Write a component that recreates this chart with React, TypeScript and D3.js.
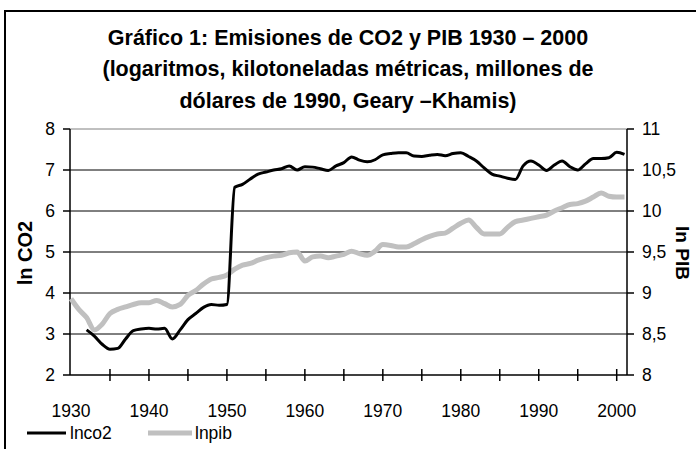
import React from 'react';
import * as d3 from 'd3';

// years 1930..2001 (one category per year)
const years = d3.range(1930, 2002);

// ln CO2 (left axis); no data for 1930-1931
const lnco2 = [
  null, null,
  3.10, 2.95, 2.75, 2.63, 2.65, 2.88, 3.08, 3.12,
  3.14, 3.12, 3.14, 2.88, 3.10, 3.35, 3.50, 3.65, 3.72, 3.70,
  3.72, 6.58, 6.65, 6.78, 6.90, 6.95, 7.00, 7.03, 7.10, 7.00,
  7.08, 7.07, 7.03, 6.99, 7.10, 7.18, 7.32, 7.24, 7.20, 7.25,
  7.37, 7.40, 7.42, 7.42, 7.34, 7.33, 7.36, 7.38, 7.35, 7.40,
  7.42, 7.33, 7.22, 7.05, 6.90, 6.85, 6.80, 6.77, 7.10, 7.22,
  7.12, 6.99, 7.12, 7.22, 7.08, 7.00, 7.15, 7.28, 7.28, 7.30,
  7.43, 7.38,
];

// ln PIB (right axis)
const lnpib = [
  8.93, 8.80, 8.70, 8.55, 8.62, 8.75, 8.80, 8.83, 8.86, 8.88,
  8.88, 8.91, 8.87, 8.83, 8.86, 8.97, 9.03, 9.11, 9.17, 9.19,
  9.22, 9.29, 9.34, 9.36, 9.40, 9.43, 9.45, 9.46, 9.49, 9.50,
  9.39, 9.44, 9.45, 9.43, 9.45, 9.47, 9.51, 9.48, 9.46, 9.51,
  9.59, 9.58, 9.56, 9.56, 9.60, 9.65, 9.69, 9.72, 9.73, 9.79,
  9.85, 9.89, 9.80, 9.72, 9.72, 9.72, 9.80, 9.87, 9.89, 9.91,
  9.93, 9.95, 10.00, 10.04, 10.08, 10.09, 10.12, 10.17, 10.22, 10.18,
  10.17, 10.17,
];

const leftTicks = [2, 3, 4, 5, 6, 7, 8];
const rightTicks = [8, 8.5, 9, 9.5, 10, 10.5, 11];
const yearLabels = [1930, 1940, 1950, 1960, 1970, 1980, 1990, 2000];
const yearTicks = [1935, 1940, 1945, 1950, 1955, 1960, 1965, 1970, 1975, 1980, 1985, 1990, 1995, 2000];

const titleLines = [
  'Gráfico 1: Emisiones de CO2 y PIB 1930 – 2000',
  '(logaritmos, kilotoneladas métricas, millones de',
  'dólares de 1990, Geary –Khamis)',
];

const W = 696;
const H = 449;
const font = '"Liberation Sans", Arial, sans-serif';

export default function App() {
  const plot = { left: 70, right: 627, top: 129, bottom: 375 };

  const x = d3.scaleLinear().domain([1930, 2001]).range([71, 624.5]);
  const yL = d3.scaleLinear().domain([2, 8]).range([plot.bottom, plot.top]);
  const yR = d3.scaleLinear().domain([8, 11]).range([plot.bottom, plot.top]);

  const co2Line = d3.line<number | null>()
    .defined(d => d != null)
    .x((_, i) => x(years[i]))
    .y(d => yL(d as number))
    .curve(d3.curveMonotoneX);

  const pibLine = d3.line<number>()
    .x((_, i) => x(years[i]))
    .y(d => yR(d))
    .curve(d3.curveMonotoneX);

  const fmt = (v: number) => String(v).replace('.', ',');

  return (
    <svg width={W} height={H} style={{ position: 'absolute', left: 0, top: 0, background: '#fff' }}
      fontFamily={font}>
      {/* outer chart border */}
      <rect x={5} y={11} width={720} height={500} fill="none" stroke="#000" strokeWidth={2} />

      {titleLines.map((t, i) => (
        <text key={i} x={348} y={44.5 + i * 31.5} textAnchor="middle" fontSize={21.5} fontWeight="bold">{t}</text>
      ))}

      {/* gridlines */}
      {leftTicks.filter(v => v > 2 && v < 8).map(v => (
        <line key={v} x1={plot.left} x2={plot.right} y1={yL(v)} y2={yL(v)} stroke="#000" strokeWidth={1} />
      ))}
      <line x1={plot.left} x2={plot.right} y1={plot.top} y2={plot.top} stroke="#808080" strokeWidth={1} />

      {/* left axis */}
      <line x1={plot.left} x2={plot.left} y1={plot.top} y2={plot.bottom} stroke="#000" strokeWidth={1.5} />
      {leftTicks.map(v => (
        <g key={v}>
          <line x1={plot.left - 7} x2={plot.left} y1={yL(v)} y2={yL(v)} stroke="#000" strokeWidth={1.5} />
          <text x={plot.left - 15} y={yL(v)} dy="0.36em" textAnchor="end" fontSize={17.5}>{v}</text>
        </g>
      ))}

      {/* right axis */}
      <line x1={plot.right} x2={plot.right} y1={plot.top} y2={plot.bottom} stroke="#000" strokeWidth={1.5} />
      {rightTicks.map(v => (
        <g key={v}>
          <line x1={plot.right} x2={plot.right + 7} y1={yR(v)} y2={yR(v)} stroke="#000" strokeWidth={1.5} />
          <text x={plot.right + 15} y={yR(v)} dy="0.36em" fontSize={17.5}>{fmt(v)}</text>
        </g>
      ))}

      {/* bottom axis */}
      <line x1={plot.left} x2={plot.right} y1={plot.bottom} y2={plot.bottom} stroke="#000" strokeWidth={1.5} />
      {yearTicks.map(v => (
        <line key={v} x1={x(v)} x2={x(v)} y1={plot.bottom - 6} y2={plot.bottom + 6} stroke="#000" strokeWidth={1.5} />
      ))}
      {yearLabels.map(v => (
        <text key={v} x={x(v)} y={plot.bottom + 42} textAnchor="middle" fontSize={17.5}>{v}</text>
      ))}

      {/* axis titles */}
      <text transform={`translate(32,253) rotate(-90)`} textAnchor="middle" fontSize={20} fontWeight="bold">ln CO2</text>
      <text transform={`translate(676,253) rotate(90)`} textAnchor="middle" fontSize={19} fontWeight="bold">ln PIB</text>

      {/* series */}
      <path d={pibLine(lnpib) || ''} fill="none" stroke="#c0c0c0" strokeWidth={5} strokeLinejoin="round" />
      <path d={co2Line(lnco2) || ''} fill="none" stroke="#000" strokeWidth={3} strokeLinejoin="round" />

      {/* legend */}
      <line x1={27} x2={66} y1={433} y2={433} stroke="#000" strokeWidth={3} />
      <text x={70} y={439} fontSize={17.5}>lnco2</text>
      <line x1={148} x2={192} y1={433} y2={433} stroke="#c0c0c0" strokeWidth={5} />
      <text x={195} y={439} fontSize={17.5}>lnpib</text>
    </svg>
  );
}
